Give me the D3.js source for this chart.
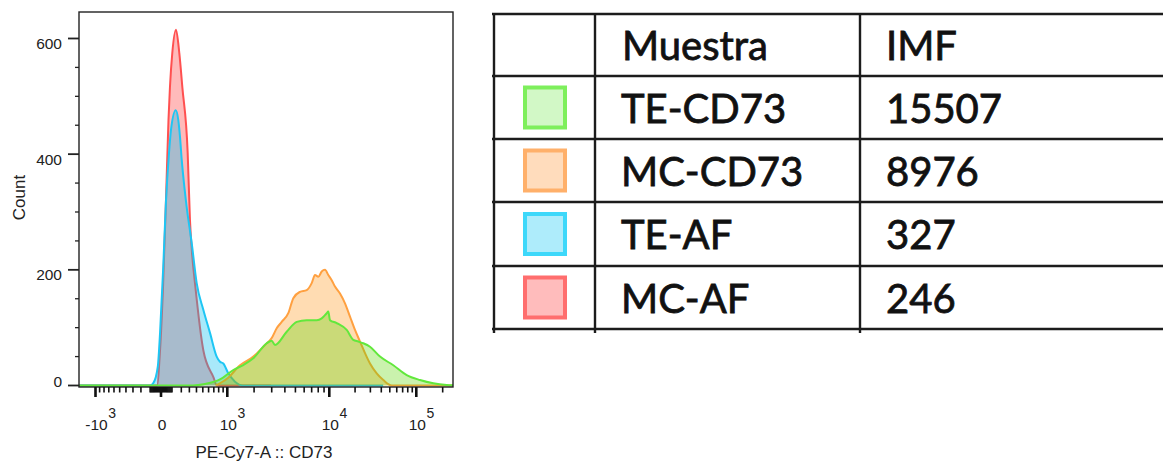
<!DOCTYPE html>
<html><head><meta charset="utf-8">
<script src="https://cdn.jsdelivr.net/npm/d3@7"></script>
<style>body{margin:0;background:#fff}svg{display:block}</style>
</head><body>
<svg id="c" width="1163" height="461"></svg>
<script>
// ---------- data ----------
const samples = ["TE-CD73", "MC-CD73", "TE-AF", "MC-AF"];
const imf = ["15507", "8976", "327", "246"];
const headers = ["Muestra", "IMF"];
const xMajorTicks = [-1000, 0, 1000, 10000, 100000];
const xTickBase = ["-10", "0", "10", "10", "10"];
const xTickExp = ["3", "", "3", "4", "5"];
const yMajorTicks = [0, 200, 400, 600];
const yMinorTicks = [50, 100, 150, 250, 300, 350, 450, 500, 550];
const xMinorTicks = [-900,-800,-700,-600,-500,-400,-300,-200,-100,
  -90,-80,-70,-60,-50,-40,-30,-20,-10,10,20,30,40,50,60,70,80,90,
  100,200,300,400,500,600,700,800,900,
  2000,3000,4000,5000,6000,7000,8000,9000,
  20000,30000,40000,50000,60000,70000,80000,90000,200000];

// histogram series: [PE-Cy7-A value, count]
const mcAF = [[-1250,0],[-35,0],[-8,61],[17,170],[43,321],[66,459],[80,516],[103,575],[141,615],[177,575],[212,516],[278,402],[308,286],[336,229],[378,177],[508,61],[689,15],[765,0],[2950,0]];
const teAF = [[-1250,0],[-100,0],[-69,4],[-28,32],[-8,91],[19,205],[42,315],[71,402],[90,442],[138,476],[166,459],[185,430],[205,390],[236,344],[265,309],[332,246],[403,177],[508,131],[626,91],[758,50],[829,41],[904,38],[1029,21],[1237,6.6],[1524,0],[42000,0]];
const mcCD73 = [[740,0],[1000,12],[1411,35],[1963,50],[2579,70],[2999,82],[3349,99],[3734,110],[4303,125],[4784,151],[5503,162],[6323,165],[7006,177],[7493,191],[8013,188],[8584,197],[9173,200],[9801,191],[10675,182],[11675,171],[13362,159],[15284,142],[17473,119],[19964,96],[22801,76],[26030,56],[29707,38],[35444,21],[42164,9.5],[52560,0],[262144,0]];
const teCD73 = [[-1250,0],[350,0],[537,2.6],[829,10.4],[1182,26.8],[1535,35.4],[1963,47],[2681,73],[2999,77.5],[3226,70],[4159,93],[5138,110],[6323,113],[7757,113],[8584,116],[9492,125],[9801,128],[10192,113],[12225,108],[15996,96],[19079,79],[21793,76],[24884,73],[29707,67],[38664,50],[54816,35],[77850,18],[110220,9.5],[156330,3.8],[222200,1],[262144,0.5]];

// ---------- styles ----------
const series = [
  {data: mcAF,  line: "#ff5050", fill: "rgba(255,0,0,0.27)"},
  {data: teAF,  line: "#1ec6f4", fill: "rgba(0,190,240,0.34)"},
  {data: mcCD73,line: "#ffa040", fill: "rgba(255,140,0,0.30)"},
  {data: teCD73,line: "#62e83c", fill: "rgba(90,215,0,0.32)"}
];
const legendStyle = [
  {stroke: "#7eef5c", fill: "#d2f8c6"},
  {stroke: "#ffb06a", fill: "#ffdcbc"},
  {stroke: "#3ed8fa", fill: "#aeecfb"},
  {stroke: "#ff6e6e", fill: "#ffbcbc"}
];

const svg = d3.select("#c");
const L = 79, R = 453, T = 12, B = 387;

const x = d3.scaleSymlog().constant(500)
  .domain([-1250, -1000, 0, 1000, 10000, 100000, 262144])
  .range([L, 95.5, 161, 227.3, 329.3, 416.3, R]);
const y = d3.scaleLinear().domain([-2.6, 645.8]).range([B, T]);

const defs = svg.append("defs");
defs.append("clipPath").attr("id","clip").append("rect")
  .attr("x",L).attr("y",T).attr("width",R-L).attr("height",B-T);
defs.append("filter").attr("id","soft").append("feGaussianBlur").attr("stdDeviation",0.7);

const g = svg.append("g").attr("clip-path","url(#clip)");
const area = d3.area().x(d=>x(d[0])).y0(y(0)).y1(d=>y(d[1])).curve(d3.curveMonotoneX);
const line = d3.line().x(d=>x(d[0])).y(d=>y(d[1])).curve(d3.curveMonotoneX);
series.forEach(s=>{
  g.append("path").attr("d", area(s.data)).attr("fill", s.fill);
  g.append("path").attr("d", line(s.data)).attr("fill","none")
    .attr("stroke", s.line).attr("stroke-width", 2).attr("stroke-linejoin","round");
});

// frame
svg.append("rect").attr("x",L).attr("y",T).attr("width",R-L).attr("height",B-T)
  .attr("fill","none").attr("stroke","#222").attr("stroke-width",1.4);

const font = "'Liberation Sans', Arial, sans-serif";
// y ticks
const ya = svg.append("g").attr("stroke","#222");
yMajorTicks.forEach(v=>ya.append("line").attr("x1",68).attr("x2",L).attr("y1",y(v)).attr("y2",y(v)).attr("stroke-width",1.8));
yMinorTicks.forEach(v=>ya.append("line").attr("x1",75).attr("x2",L).attr("y1",y(v)).attr("y2",y(v)).attr("stroke-width",1.3));
svg.append("g").selectAll("text").data(yMajorTicks).join("text")
  .attr("x",62).attr("y",v=> v===0 ? y(v)+1.5 : y(v)+10.5)
  .attr("text-anchor","end").attr("font-family",font).attr("font-size",15.5).attr("fill","#222")
  .text(v=>v);

// x ticks
const xa = svg.append("g").attr("stroke","#111");
xMinorTicks.forEach(v=>xa.append("line").attr("x1",x(v)).attr("x2",x(v)).attr("y1",B).attr("y2",B+5.5).attr("stroke-width",1.6));
xMajorTicks.forEach(v=>xa.append("line").attr("x1",x(v)).attr("x2",x(v)).attr("y1",B).attr("y2",B+10).attr("stroke-width",2.6));
xMajorTicks.forEach((v,i)=>{
  const t = svg.append("text").attr("x",x(v)+1).attr("y",430).attr("text-anchor","middle")
    .attr("font-family",font).attr("font-size",15.5).attr("fill","#222").text(xTickBase[i]);
  if (xTickExp[i]) {
    const w = t.node().getComputedTextLength();
    svg.append("text").attr("x",x(v)+1+w/2+0.5).attr("y",418).attr("font-family",font)
      .attr("font-size",14).attr("fill","#222").text(xTickExp[i]);
  }
});

// axis titles
svg.append("text").attr("x",(L+R)/2-2).attr("y",457.5).attr("text-anchor","middle")
  .attr("font-family",font).attr("font-size",17).attr("fill","#222").text("PE-Cy7-A :: CD73");
svg.append("text").attr("transform",`translate(25,${(T+B)/2-2}) rotate(-90)`).attr("text-anchor","middle")
  .attr("font-family",font).attr("font-size",17).attr("fill","#222").text("Count");

// ---------- table ----------
const rowY = [14, 76, 139, 202, 266, 329];
const colX = [494, 595, 860];
const tb = svg.append("g");
rowY.forEach(yy=>tb.append("line").attr("x1",492).attr("x2",1163).attr("y1",yy).attr("y2",yy)
  .attr("stroke","#1c1c1c").attr("stroke-width",2.4));
colX.forEach(xx=>tb.append("line").attr("x1",xx).attr("x2",xx).attr("y1",13).attr("y2",333)
  .attr("stroke","#1c1c1c").attr("stroke-width",2.4));
const tfont = "Lato, 'Open Sans', sans-serif";
const mid = i => (rowY[i]+rowY[i+1])/2;
function cellText(xp, yp, s){
  tb.append("text").attr("x",xp).attr("y",yp).attr("font-family",tfont).attr("font-size",40)
    .attr("fill","#111").attr("stroke","#111").attr("stroke-width",0.8).attr("textLength", null).text(s);
}
cellText(622, mid(0)+15, headers[0]);
cellText(886, mid(0)+15, headers[1]);
samples.forEach((s,i)=>{
  const cy = mid(i+1);
  tb.append("rect").attr("x",525).attr("y",cy-20).attr("width",40).attr("height",40)
    .attr("fill",legendStyle[i].fill).attr("stroke",legendStyle[i].stroke).attr("stroke-width",4)
    .attr("filter","url(#soft)");
  cellText(621, cy+15, s);
  cellText(886, cy+15, imf[i]);
});
</script>
</body></html>
